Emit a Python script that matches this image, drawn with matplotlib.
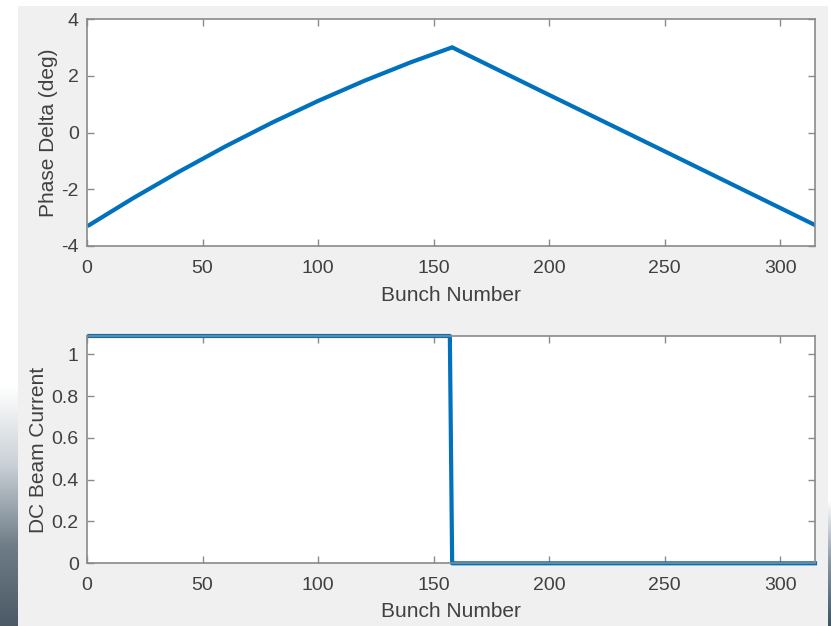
import numpy as np
import matplotlib
matplotlib.use('Agg')
import matplotlib.pyplot as plt
from matplotlib.patches import Rectangle

# phase delta
bunch_phase = [1, 20, 40, 60, 80, 100, 120, 140, 158, 200, 250, 315]
phase_delta = [-3.26, -2.31, -1.37, -0.48, 0.35, 1.12, 1.83, 2.48, 3.01, 1.33, -0.66, -3.26]

# DC beam current, bottom panel (step after bunch 157)
bunch_current = [1, 157, 158, 315]
dc_current = [1.087, 1.087, 0.0, 0.0]

x_ticks = [0, 50, 100, 150, 200, 250, 300]
phase_ticks = [-4, -2, 0, 2, 4]
current_ticks = [0, 0.2, 0.4, 0.6, 0.8, 1]
current_ticklabels = ['0', '0.2', '0.4', '0.6', '0.8', '1']

blue = '#0072BD'
grey_bg = '#f0f0f0'
txt = '#404040'
axc = '#8a8a8a'

plt.rcParams['font.family'] = ['Liberation Sans', 'DejaVu Sans']
plt.rcParams['axes.unicode_minus'] = False

W, H = 831, 626
fig = plt.figure(figsize=(W / 100, H / 100), dpi=100, facecolor='white')

# grey figure area of the screenshot
fig.patches.append(Rectangle((18 / W, 0), (828 - 18) / W, 1 - 6 / H,
                             transform=fig.transFigure, facecolor=grey_bg,
                             edgecolor='none', zorder=-10))
# dark edge strips from the screenshot
gl = fig.add_axes([0, 0, 18 / W, 1 - 385 / H], zorder=-5)
grad = np.linspace(1, 0, 200).reshape(-1, 1)
gl.imshow(grad, aspect='auto', cmap=matplotlib.colors.LinearSegmentedColormap.from_list(
    'g', ['#ffffff', '#c9d0d6', '#6f7d88', '#4b5a66'][::-1]), extent=[0, 1, 0, 1])
gl.axis('off')
gr = fig.add_axes([828 / W, 0, 3 / W, 1 - 500 / H], zorder=-5)
gr.imshow(grad, aspect='auto', cmap=matplotlib.colors.LinearSegmentedColormap.from_list(
    'g2', ['#ffffff', '#8896a2', '#3d5366'][::-1]), extent=[0, 1, 0, 1])
gr.axis('off')


def style(ax):
    ax.set_facecolor('white')
    for s in ax.spines.values():
        s.set_color(axc)
        s.set_linewidth(1.2)
    ax.tick_params(direction='in', top=True, right=True, length=5, width=1,
                   color=axc, labelcolor=txt, labelsize=14)
    ax.tick_params(axis='x', pad=10)
    ax.tick_params(axis='y', pad=6)


ax1 = fig.add_axes([87 / W, 1 - 246 / H, 728 / W, 226.7 / H])
ax1.plot(bunch_phase, phase_delta, color=blue, lw=3.0, solid_joinstyle='miter')
ax1.set_xlim(0, 315)
ax1.set_ylim(-4, 4)
ax1.set_xticks(x_ticks)
ax1.set_yticks(phase_ticks)
style(ax1)
ax1.set_xlabel('Bunch Number', fontsize=15, color=txt)
ax1.set_ylabel('Phase Delta (deg)', fontsize=15, color=txt)
ax1.xaxis.set_label_coords(0.5, -0.178)
ax1.yaxis.set_label_coords(-0.040, 0.5)

ax2 = fig.add_axes([87 / W, 1 - 563.3 / H, 728 / W, 227.3 / H])
ax2.plot(bunch_current, dc_current, color=blue, lw=3.0, clip_on=False)
ax2.set_xlim(0, 315)
ax2.set_ylim(0, 1.087)
ax2.set_xticks(x_ticks)
ax2.set_yticks(current_ticks)
ax2.set_yticklabels(current_ticklabels)
style(ax2)
ax2.set_xlabel('Bunch Number', fontsize=15, color=txt)
ax2.set_ylabel('DC Beam Current', fontsize=15, color=txt)
ax2.xaxis.set_label_coords(0.5, -0.17)
ax2.yaxis.set_label_coords(-0.053, 0.5)

fig.savefig('out.png', dpi=100, facecolor=fig.get_facecolor())
